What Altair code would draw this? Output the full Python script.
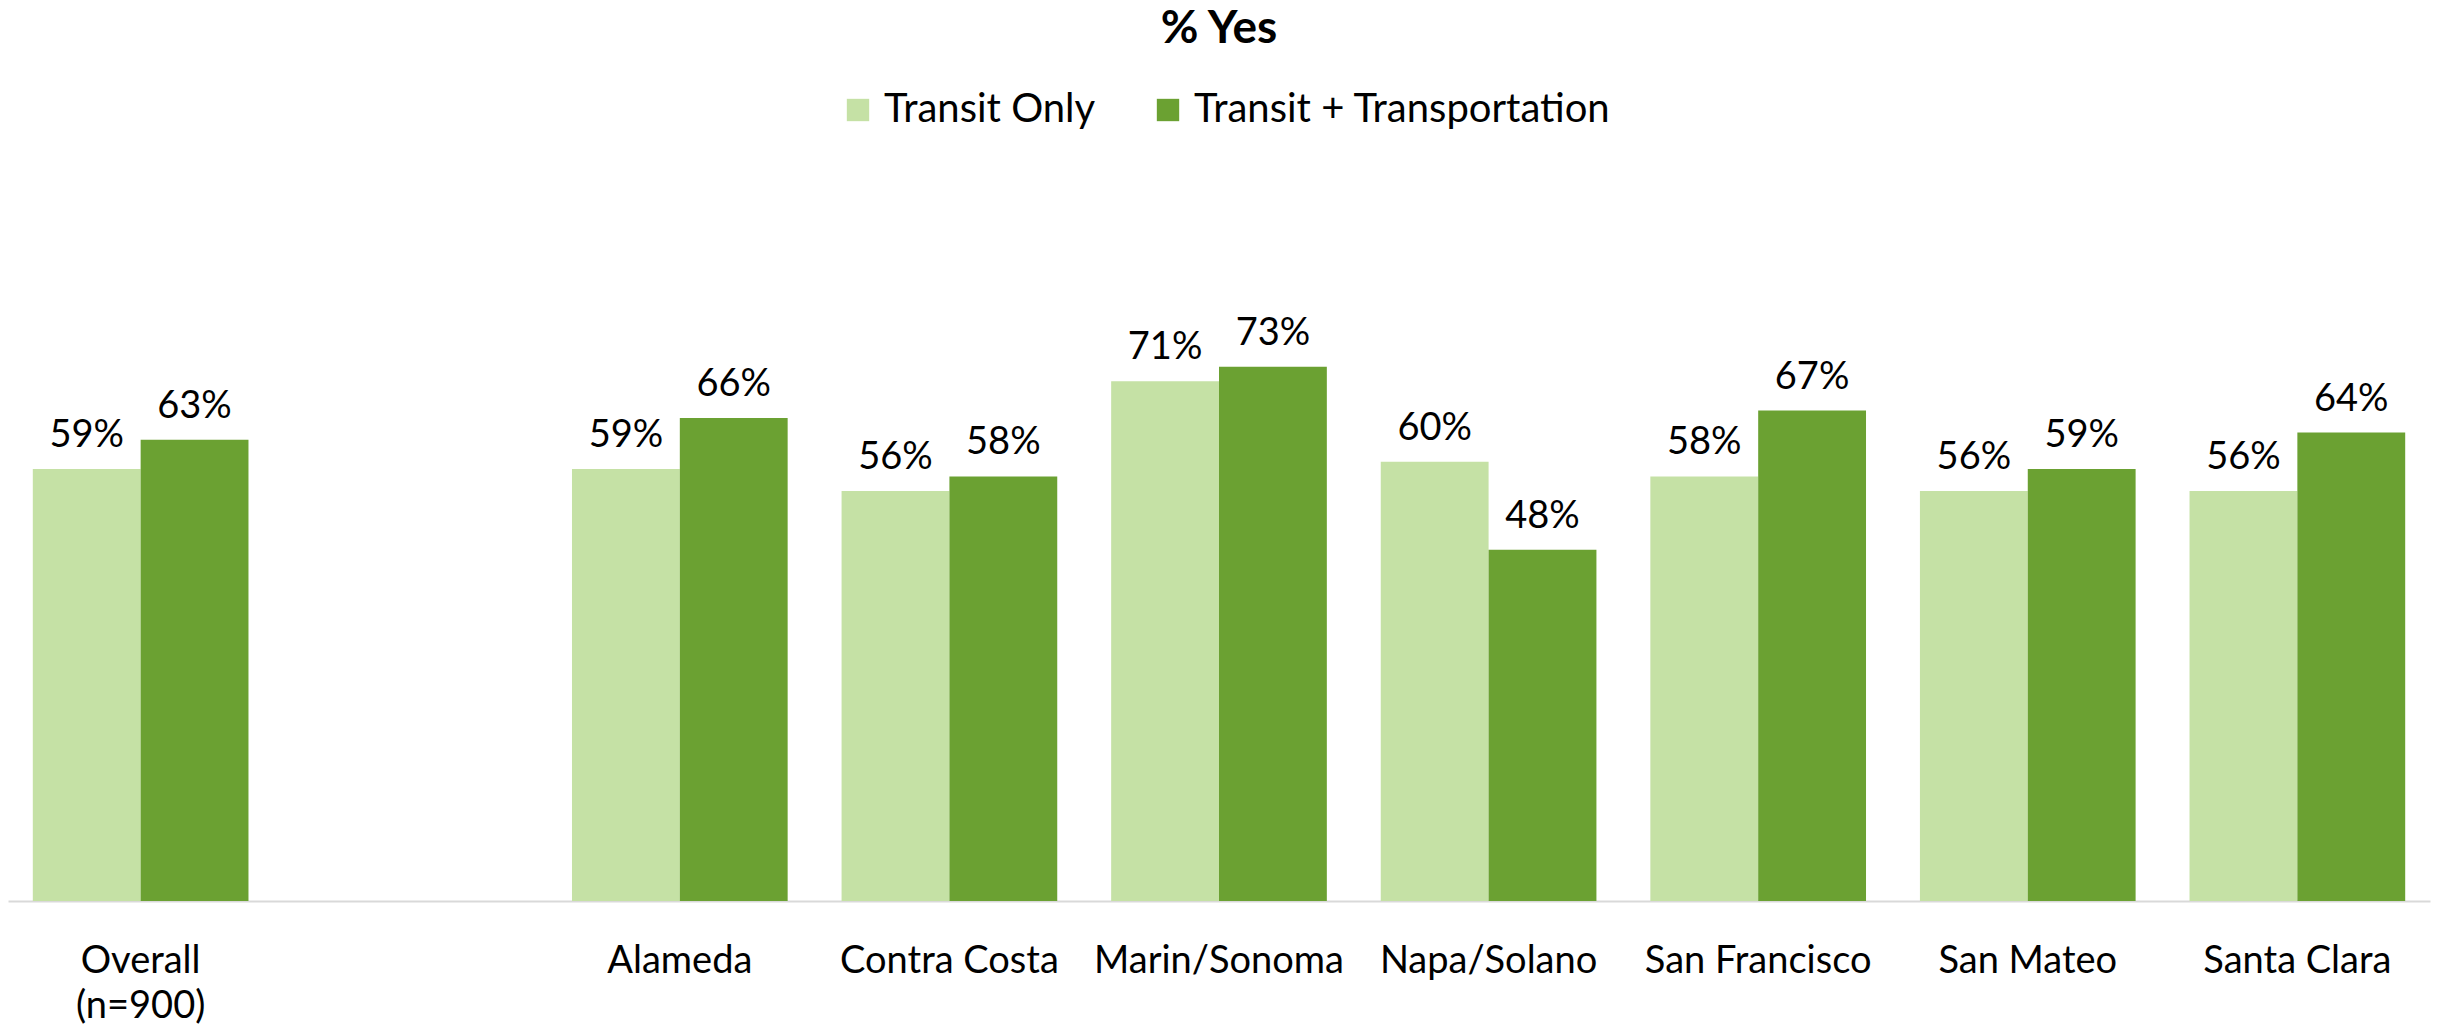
import altair as alt
import pandas as pd

categories = ["Overall|(n=900)", " ", "Alameda", "Contra Costa", "Marin/Sonoma",
              "Napa/Solano", "San Francisco", "San Mateo", "Santa Clara"]
series = ["Transit Only", "Transit + Transportation"]
transit_only = [59, None, 59, 56, 71, 60, 58, 56, 56]
transit_plus = [63, None, 66, 58, 73, 48, 67, 59, 64]
colors = ["#C5E1A5", "#6BA132"]

rows = []
for cat, a, b in zip(categories, transit_only, transit_plus):
    if a is not None:
        rows.append({"category": cat, "series": series[0], "value": a})
    if b is not None:
        rows.append({"category": cat, "series": series[1], "value": b})
df = pd.DataFrame(rows)

FONT = "Lato"
FS = 38

x = alt.X(
    "category:N",
    sort=categories,
    scale=alt.Scale(domain=categories, paddingInner=0.2, paddingOuter=0.092),
    axis=alt.Axis(
        title=None, labelExpr="split(datum.label, '|')", ticks=False,
        domainColor="#D9D9D9", domainWidth=2, labelFont=FONT, labelFontSize=FS,
        labelColor="black", labelPadding=71, labelBaseline="alphabetic",
        labelLineHeight=45, labelAngle=0, grid=False, labelLimit=0,
    ),
)
xo = alt.XOffset("series:N", sort=series, scale=alt.Scale(domain=series))
y = alt.Y("value:Q", scale=alt.Scale(domain=[0, 100]), axis=None)

bars = alt.Chart(df).mark_bar().encode(
    x=x, xOffset=xo, y=y,
    color=alt.Color(
        "series:N",
        scale=alt.Scale(domain=series, range=colors),
        legend=alt.Legend(
            orient="none", legendX=830, legendY=-79, direction="horizontal",
            title=None, symbolType="square", symbolSize=500, symbolStrokeWidth=0,
            labelFontSize=40, labelFont=FONT, labelColor="black", labelOffset=6,
            columnPadding=52, labelLimit=0,
        ),
    ),
)

labels = alt.Chart(df).transform_calculate(
    label="datum.value + '%'"
).mark_text(baseline="alphabetic", dy=-22, fontSize=FS, font=FONT, color="black").encode(
    x=x, xOffset=xo, y=y, text="label:N"
)

chart = alt.layer(bars, labels).properties(
    width=2422, height=732,
    title=alt.TitleParams("% Yes", fontSize=46, fontWeight="bold", font=FONT,
                          anchor="middle", frame="group", offset=37, color="black"),
    autosize=alt.AutoSizeParams(type="none"),
    padding={"left": 0, "top": 161, "right": 2, "bottom": 125},
).configure_view(stroke=None)

chart.save("out.html", embed_options={"renderer": "svg", "actions": False})
